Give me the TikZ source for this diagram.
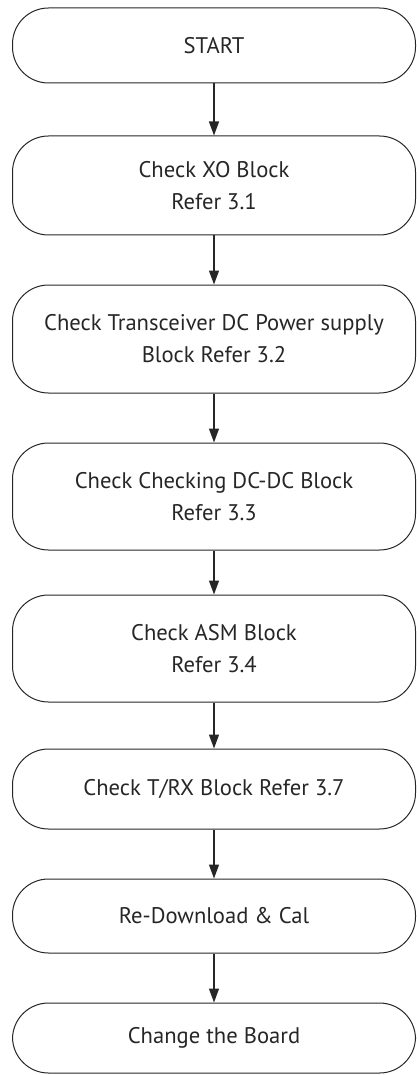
\documentclass[tikz,border=0pt]{standalone}
\usepackage{fontspec}
\setmainfont{PT Sans}
\usetikzlibrary{arrows.meta, positioning}

\begin{document}
\begin{tikzpicture}[x=1pt, y=-1pt,
    stepbox/.style={rectangle, rounded corners=36pt, draw=black!85, line width=1pt, minimum width=403pt, inner sep=0pt, align=center, text=black!85, font=\fontsize{22.6}{32}\selectfont},
    flow/.style={-{Triangle[length=14pt, width=10pt]}, line width=1.4pt, draw=black!85},
]
    \useasboundingbox (0,0) rectangle (416,1075);

    % steps of the check
    \node[stepbox, minimum height=75pt] (start) at (214,45.5) {START};
    \node[stepbox, minimum height=99pt] (xo) at (214,185.5) {Check XO Block\\Refer 3.1};
    \node[stepbox, minimum height=108pt] (dcpower) at (214,339) {Check Transceiver DC Power supply\\Block Refer 3.2};
    \node[stepbox, minimum height=107pt] (dcdc) at (214,496.5) {Check Checking DC-DC Block\\Refer 3.3};
    \node[stepbox, minimum height=107pt] (asm) at (214,648.5) {Check ASM Block\\Refer 3.4};
    \node[stepbox, minimum height=80pt] (trx) at (214,789) {Check T/RX Block Refer 3.7};
    \node[stepbox, minimum height=74pt] (cal) at (214,916) {Re-Download \& Cal};
    \node[stepbox, minimum height=70pt] (board) at (214,1038) {Change the Board};

    % arrows
    \draw[flow] (start) -- (xo);
    \draw[flow] (xo) -- (dcpower);
    \draw[flow] (dcpower) -- (dcdc);
    \draw[flow] (dcdc) -- (asm);
    \draw[flow] (asm) -- (trx);
    \draw[flow] (trx) -- (cal);
    \draw[flow] (cal) -- (board);
\end{tikzpicture}
\end{document}
